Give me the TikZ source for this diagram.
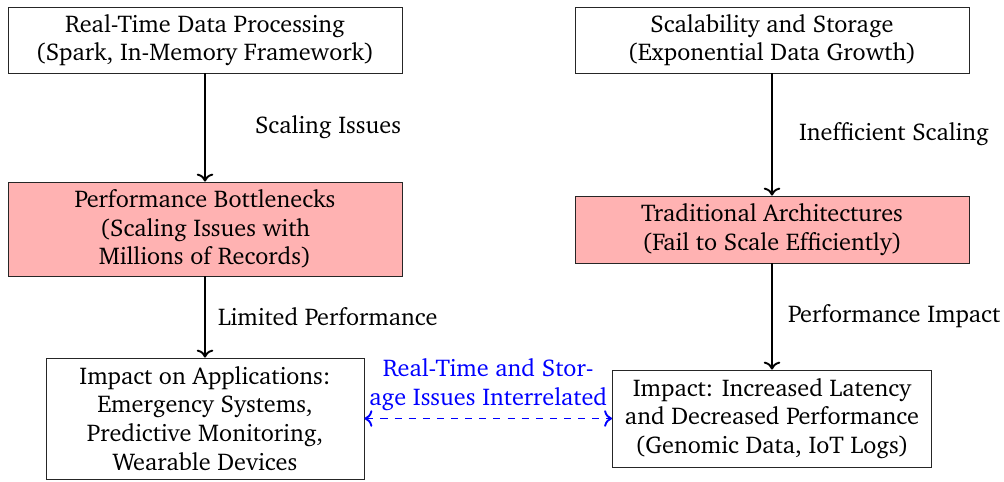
\documentclass[tikz,border=0pt]{standalone}
\usepackage[T1]{fontenc}
\usepackage{charter}
\usetikzlibrary{arrows.meta}
\newdimen\pxu \pxu=0.01494cm
\tikzset{
  every node/.style={font=\fontsize{10.3}{12.2}\selectfont},
  box/.style={draw=black!85, thin, align=center, inner sep=2pt},
  hot/.style={box, fill=red!30},
  flow/.style={->, thick, black},
  lab/.style={right, inner sep=3pt},
  link/.style={<->, thick, dashed, blue},
}
\begin{document}
\begin{tikzpicture}[x=0.01494cm, y=-0.01494cm]
\useasboundingbox (0,0) rectangle (1004,481);

% left column: real-time processing
\node[box, minimum width=394\pxu, minimum height=66\pxu] (rtp) at (205,40)
  {Real-Time Data Processing\\(Spark, In-Memory Framework)};
\node[hot, minimum width=394\pxu, minimum height=94\pxu] (pb) at (205,229)
  {Performance Bottlenecks\\(Scaling Issues with\\Millions of Records)};
\node[box, minimum width=318\pxu, minimum height=121\pxu] (app) at (205,418.5)
  {Impact on Applications:\\Emergency Systems,\\Predictive Monitoring,\\Wearable Devices};

% right column: scalability and storage
\node[box, minimum width=394\pxu, minimum height=66\pxu] (sas) at (772,40)
  {Scalability and Storage\\(Exponential Data Growth)};
\node[hot, minimum width=394\pxu, minimum height=67\pxu] (ta) at (772,229.5)
  {Traditional Architectures\\(Fail to Scale Efficiently)};
\node[box, minimum width=319\pxu, minimum height=97\pxu] (lat) at (772,418.5)
  {Impact: Increased Latency\\and Decreased Performance\\(Genomic Data, IoT Logs)};

% vertical flows
\draw[flow] (rtp) -- node[lab, xshift=42\pxu] {Scaling Issues} (pb);
\draw[flow] (pb) -- node[lab, xshift=5\pxu] {Limited Performance} (app);
\draw[flow] (sas) -- node[lab, xshift=19\pxu] {Inefficient Scaling} (ta);
\draw[flow] (ta) -- node[lab, xshift=8\pxu] {Performance Impact} (lat);

% cross link between the two impacts
\draw[link] (app.east) -- node[above, align=center, text=blue, inner sep=3pt]
  {Real-Time and Stor-\\age Issues Interrelated} (lat.west);
\end{tikzpicture}
\end{document}
